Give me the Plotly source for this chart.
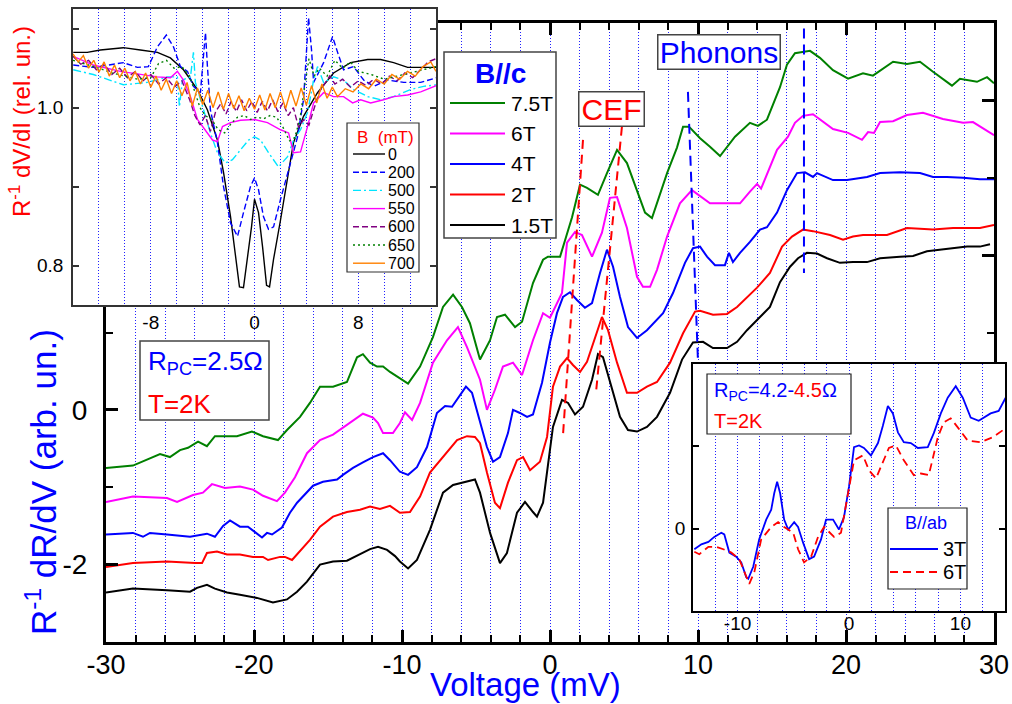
import plotly.graph_objects as go

FONT = "Liberation Sans, Arial, Helvetica, sans-serif"
GRID = "#2020ff"
GDASH = "1px,2px"

# ---------------- main panel: Voltage (mV) vs R^-1 dR/dV (offset curves) ----------------
main_labels = ["7.5T", "6T", "4T", "2T", "1.5T"]
main_colors = ["#008000", "#ff00ff", "#0000ff", "#ff0000", "#000000"]

c75 = [(-30.0,-0.75),(-28.18,-0.72),(-26.35,-0.57),(-25.68,-0.61),(-25.0,-0.52),(-24.46,-0.49),(-23.78,-0.41),
       (-23.18,-0.47),(-22.64,-0.34),(-21.15,-0.34),(-20.14,-0.28),(-19.39,-0.34),(-18.38,-0.39),(-17.77,-0.26),
       (-16.89,-0.09),(-16.22,0.09),(-15.54,0.30),(-14.66,0.30),(-13.72,0.36),(-13.04,0.68),(-12.64,0.72),
       (-12.16,0.61),(-11.69,0.56),(-11.28,0.56),(-10.81,0.49),(-10.14,0.41),(-9.59,0.34),(-8.78,0.56),
       (-7.91,0.94),(-7.23,1.33),(-6.55,1.49),(-5.95,1.33),(-5.41,1.12),(-4.73,0.65),(-4.05,0.90),(-3.58,1.20),
       (-3.04,1.23),(-2.36,1.07),(-1.89,1.14),(-1.15,1.64),(-0.47,1.94),(-0.14,1.98),(0.68,1.98),(1.49,2.49),
       (2.03,2.91),(2.50,2.87),(2.91,2.82),(3.24,2.78),(3.85,3.06),(4.53,3.36),(5.20,3.19),(5.88,2.84),
       (6.42,2.55),(6.89,2.48),(7.30,2.71),(7.91,3.06),(8.58,3.39),(8.99,3.66),(9.39,3.66),(10.14,3.51),
       (10.81,3.40),(11.49,3.28),(12.50,3.53),(13.51,3.71),(14.05,3.67),(14.66,3.75),(15.54,4.17),(16.01,4.46),
       (16.55,4.61),(17.57,4.64),(18.24,4.55),(19.12,4.39),(20.14,4.28),(21.15,4.35),(21.82,4.32),(23.18,4.50),
       (24.12,4.47),(25.0,4.50),(25.88,4.37),(27.16,4.19),(27.70,4.28),(28.85,4.24),(29.53,4.30),(30.0,4.22)]

c6 = [(-30.0,-1.19),(-28.18,-1.12),(-25.88,-1.14),(-25.20,-1.19),(-24.12,-1.10),(-23.45,-1.07),(-22.84,-0.96),
      (-21.96,-1.01),(-20.95,-0.99),(-20.07,-1.03),(-19.39,-1.11),(-18.45,-1.18),(-17.91,-1.07),(-17.23,-0.87),
      (-16.42,-0.56),(-15.54,-0.39),(-14.66,-0.32),(-13.99,-0.23),(-13.31,-0.13),(-12.64,-0.05),(-11.96,-0.10),
      (-11.62,-0.17),(-11.28,-0.30),(-10.61,-0.30),(-10.14,-0.17),(-9.80,-0.03),(-9.32,-0.13),(-8.78,0.09),
      (-7.91,0.61),(-6.96,0.90),(-6.22,1.07),(-5.61,0.81),(-4.73,0.39),(-4.26,0.00),(-3.72,0.26),(-3.18,0.56),
      (-2.50,0.61),(-1.89,0.45),(-1.15,0.90),(-0.47,1.25),(0.00,1.19),(0.81,1.51),(1.15,2.16),(1.69,2.30),
      (2.16,2.26),(2.84,1.98),(3.51,2.29),(4.05,2.74),(4.53,2.75),(5.20,2.35),(5.88,1.72),(6.28,1.59),
      (6.76,1.59),(7.23,1.81),(7.91,2.24),(8.78,2.67),(9.59,2.84),(10.81,2.67),(11.82,2.67),(12.84,2.67),
      (13.51,2.82),(13.99,2.92),(14.26,2.86),(15.34,3.36),(16.08,3.53),(16.55,3.71),(17.09,3.80),(17.77,3.82),
      (19.12,3.63),(20.14,3.58),(21.08,3.49),(21.49,3.59),(21.89,3.58),(22.30,3.72),(23.18,3.73),(24.12,3.81),
      (25.20,3.84),(26.55,3.76),(27.91,3.71),(28.58,3.72),(30.0,3.55)]

c4 = [(-30.0,-1.61),(-28.18,-1.59),(-27.50,-1.64),(-27.03,-1.59),(-25.88,-1.61),(-24.32,-1.64),(-23.18,-1.60),
      (-22.64,-1.64),(-22.09,-1.50),(-21.62,-1.43),(-20.95,-1.51),(-20.41,-1.51),(-19.93,-1.58),(-19.46,-1.65),
      (-19.12,-1.59),(-18.78,-1.61),(-18.11,-1.52),(-17.57,-1.33),(-17.09,-1.20),(-16.69,-1.12),(-16.01,-0.98),
      (-15.34,-0.93),(-14.39,-0.90),(-13.99,-0.84),(-13.31,-0.75),(-12.64,-0.68),(-11.96,-0.61),(-11.28,-0.56),
      (-10.81,-0.65),(-10.14,-0.80),(-9.59,-0.84),(-8.99,-0.74),(-8.31,-0.48),(-7.64,-0.04),(-7.09,0.05),
      (-6.62,0.04),(-6.08,0.19),(-5.68,0.30),(-5.27,0.22),(-4.73,-0.17),(-4.26,-0.48),(-3.85,-0.67),(-3.38,-0.61),
      (-2.84,-0.30),(-2.50,0.00),(-2.03,-0.04),(-1.55,-0.09),(-1.15,-0.06),(-0.54,0.35),(0.00,0.87),(0.47,1.25),
      (0.88,1.46),(1.35,1.52),(1.82,1.42),(2.36,1.32),(2.84,1.38),(3.38,1.77),(3.85,2.07),(4.26,1.85),(4.73,1.46),
      (5.27,1.07),(5.88,0.93),(6.55,1.03),(7.64,1.25),(8.31,1.51),(9.12,1.90),(9.66,2.09),(10.14,2.11),(10.61,1.98),
      (11.15,1.87),(11.82,1.87),(12.09,2.03),(12.36,1.91),(12.84,2.03),(13.51,2.17),(14.19,2.33),(14.66,2.36),
      (15.34,2.55),(16.01,2.84),(16.69,3.06),(17.23,3.07),(17.77,3.01),(18.04,3.06),(19.12,2.97),(20.07,2.97),
      (21.42,3.01),(22.30,3.06),(23.65,3.07),(25.0,3.06),(25.88,3.01),(26.82,3.01),(27.91,3.00),(29.05,2.98),(30.0,2.98)]

c2 = [(-30.0,-2.03),(-28.18,-1.98),(-25.88,-1.96),(-24.53,-1.98),(-23.99,-1.98),(-23.51,-1.98),(-23.18,-1.85),
      (-22.50,-1.83),(-21.82,-1.87),(-20.95,-1.87),(-20.07,-1.90),(-19.39,-1.90),(-19.05,-1.94),(-18.24,-1.90),
      (-17.91,-1.90),(-17.43,-1.94),(-16.89,-1.83),(-16.22,-1.68),(-15.54,-1.51),(-14.66,-1.38),(-13.72,-1.32),
      (-12.84,-1.29),(-12.16,-1.25),(-11.49,-1.28),(-10.81,-1.24),(-10.14,-1.33),(-9.46,-1.32),(-8.78,-1.12),
      (-8.11,-0.81),(-7.23,-0.61),(-6.28,-0.39),(-5.61,-0.34),(-5.07,-0.35),(-4.73,-0.43),(-4.26,-0.81),
      (-3.72,-1.20),(-3.38,-1.27),(-2.84,-0.94),(-2.23,-0.65),(-1.82,-0.61),(-1.35,-0.78),(-0.68,-0.67),
      (-0.20,-0.35),(0.20,0.30),(0.68,0.56),(1.15,0.67),(1.55,0.58),(2.03,0.49),(2.50,0.62),(3.18,1.01),
      (3.51,1.20),(3.92,1.03),(4.53,0.61),(5.20,0.22),(5.88,0.22),(6.55,0.30),(7.23,0.36),(8.11,0.61),(8.99,0.99),
      (9.80,1.27),(10.14,1.28),(11.01,1.23),(11.96,1.24),(12.64,1.33),(13.31,1.46),(13.99,1.58),(14.86,1.77),
      (15.68,2.11),(16.35,2.24),(17.09,2.33),(17.77,2.31),(18.92,2.26),(19.80,2.20),(20.47,2.24),(21.15,2.26),
      (22.77,2.26),(24.12,2.35),(25.88,2.33),(27.23,2.35),(29.05,2.35),(30.0,2.39)]

c15 = [(-30.0,-2.36),(-28.18,-2.31),(-25.88,-2.33),(-24.32,-2.35),(-23.85,-2.30),(-23.18,-2.26),(-22.64,-2.31),
       (-21.82,-2.36),(-20.95,-2.39),(-19.80,-2.43),(-18.72,-2.49),(-17.77,-2.45),(-17.09,-2.35),(-16.42,-2.22),
       (-15.54,-2.00),(-14.66,-1.96),(-13.72,-1.95),(-12.84,-1.87),(-12.16,-1.80),(-11.62,-1.77),(-11.01,-1.81),
       (-10.47,-1.89),(-10.14,-1.96),(-9.59,-2.05),(-8.99,-1.94),(-8.11,-1.55),(-7.23,-1.07),(-6.55,-0.97),
       (-5.88,-0.94),(-5.07,-0.90),(-4.73,-1.07),(-4.05,-1.59),(-3.38,-1.98),(-2.91,-1.85),(-2.23,-1.33),
       (-1.69,-1.19),(-1.15,-1.32),(-0.88,-1.38),(-0.47,-1.20),(-0.14,-0.74),(0.20,-0.22),(0.81,0.13),(1.22,0.09),
       (1.69,-0.06),(2.23,0.04),(2.84,0.39),(3.24,0.72),(3.58,0.68),(4.05,0.35),(4.73,-0.09),(5.27,-0.26),
       (5.88,-0.28),(6.55,-0.22),(7.23,-0.09),(8.11,0.22),(8.92,0.65),(9.66,0.87),(10.34,0.88),(11.01,0.80),
       (11.96,0.80),(12.64,0.88),(13.31,1.03),(14.19,1.20),(14.86,1.33),(15.54,1.65),(16.22,1.85),(16.76,1.96),
       (17.36,2.03),(18.04,2.02),(18.72,1.96),(19.59,1.90),(20.47,1.91),(21.42,1.91),(22.30,1.96),(23.65,1.98),
       (24.53,1.99),(25.47,2.05),(26.82,2.08),(28.18,2.11),(29.05,2.11),(29.73,2.14)]

main_curves = [c75, c6, c4, c2, c15]

main_xticks = [-30, -20, -10, 0, 10, 20, 30]
main_xtext = ["-30", "-20", "-10", "0", "10", "20", "30"]
main_yticks = [-2, 0, 2, 4]
main_ytext = ["-2", "0", "", ""]

# guide lines (voltage, value) -> (voltage, value)
phonon_lines = [(9.32, 4.11, 10.0, 0.62), (17.16, 4.93, 17.16, 1.77)]
cef_lines = [(2.23, 3.49, 0.88, -0.32), (4.86, 3.66, 3.11, 0.23)]

# ---------------- inset 1 (top-left): R^-1 dV/dI vs V, B in mT ----------------
in1_labels = ["0", "200", "500", "550", "600", "650", "700"]
in1_colors = ["#000000", "#0000ff", "#00e5ff", "#ff00ff", "#800080", "#008000", "#ff8000"]
in1_dash = ["solid", "6px,3px", "8px,3px,2px,3px", "solid", "6px,3px", "2px,3px", "solid"]
in1_xticks = [-8, 0, 8]
in1_xtext = ["-8", "0", "8"]
in1_yticks = [0.8, 0.9, 1.0, 1.1]
in1_ytext = ["0.8", "", "1.0", ""]

b0 = [(-13.98,1.070),(-12.90,1.070),(-11.89,1.073),(-10.12,1.076),(-8.80,1.073),(-7.49,1.070),(-6.49,1.063),
      (-5.48,1.048),(-4.40,1.023),(-3.63,0.997),(-2.86,0.959),(-2.39,0.918),(-1.85,0.862),(-1.47,0.816),
      (-1.16,0.773),(-0.85,0.772),(-0.54,0.808),(-0.23,0.849),(0.0,0.884),(0.31,0.867),(0.62,0.824),(0.93,0.775),
      (1.16,0.773),(1.47,0.808),(2.01,0.858),(2.55,0.909),(3.01,0.956),(3.78,0.989),(4.86,1.019),(6.10,1.044),
      (7.41,1.057),(8.73,1.061),(9.73,1.061),(10.73,1.057),(11.81,1.051),(12.82,1.051),(14.05,1.051)]
b200 = [(-13.98,1.054),(-12.43,1.051),(-10.12,1.057),(-9.03,1.051),(-8.19,1.052),(-7.49,1.077),(-6.80,1.092),
        (-6.25,1.077),(-5.71,1.052),(-5.17,1.046),(-4.71,1.027),(-4.17,1.019),(-3.94,1.065),(-3.78,1.095),
        (-3.63,1.052),(-3.40,0.997),(-2.86,0.956),(-2.39,0.900),(-1.85,0.854),(-1.31,0.837),(-0.85,0.867),
        (-0.31,0.900),(0.0,0.911),(0.31,0.896),(0.69,0.862),(1.08,0.846),(1.47,0.849),(2.01,0.884),(2.78,0.930),
        (3.32,0.963),(3.78,1.010),(4.02,1.070),(4.17,1.114),(4.40,1.073),(4.56,1.032),(5.33,1.057),(6.02,1.090),
        (6.41,1.070),(6.87,1.048),(7.64,1.052),(8.42,1.035),(9.19,1.027),(10.27,1.035),(11.51,1.032),(12.82,1.032),
        (14.05,1.038)]
b500 = [(-13.98,1.048),(-12.43,1.042),(-10.12,1.029),(-8.26,1.032),(-6.72,1.039),(-5.95,1.039),(-5.79,1.001),
        (-5.56,1.035),(-4.94,1.039),(-4.71,1.070),(-4.56,1.032),(-3.94,0.997),(-3.40,0.968),(-2.86,0.943),
        (-2.24,0.930),(-1.70,0.934),(-1.08,0.947),(-0.46,0.959),(0.0,0.963),(0.46,0.959),(1.08,0.943),(1.85,0.925),
        (2.55,0.938),(3.01,0.959),(3.55,0.972),(4.09,0.994),(4.56,1.035),(4.86,1.052),(5.33,1.032),(6.10,1.039),
        (6.87,1.035),(7.64,1.023),(8.73,1.014),(9.73,1.010),(10.73,1.014),(12.05,1.023),(13.05,1.027),(14.05,1.029)]
b550 = [(-13.98,1.065),(-12.43,1.054),(-10.35,1.046),(-8.80,1.042),(-7.49,1.039),(-6.49,1.038),(-5.95,1.046),
        (-5.48,1.035),(-4.94,1.014),(-4.40,0.985),(-3.94,0.975),(-3.24,0.959),(-2.86,0.957),(-2.47,0.976),
        (-1.85,0.981),(-1.08,0.984),(0.0,0.985),(1.00,0.981),(2.01,0.972),(2.63,0.968),(3.01,0.943),(3.55,0.944),
        (4.09,0.976),(4.56,1.006),(5.33,1.019),(6.10,1.014),(6.87,1.014),(7.57,1.006),(8.19,1.010),(8.96,1.006),
        (9.96,1.010),(10.73,1.014),(11.81,1.016),(12.82,1.020),(14.05,1.028)]
b600 = [(-14.0,1.065),(-13.4,1.055),(-12.8,1.060),(-12.2,1.048),(-11.6,1.055),(-11.0,1.042),(-10.4,1.050),
        (-9.8,1.038),(-9.2,1.046),(-8.6,1.034),(-8.0,1.042),(-7.4,1.030),(-6.8,1.038),(-6.2,1.026),(-5.6,1.034),
        (-5.0,1.010),(-4.6,0.990),(-4.2,0.978),(-3.8,0.990),(-3.4,0.970),(-3.0,0.995),(-2.6,1.005),(-2.2,0.992),
        (-1.8,1.008),(-1.4,0.995),(-1.0,1.010),(-0.6,0.996),(-0.2,1.008),(0.2,0.994),(0.6,1.008),(1.0,0.996),
        (1.4,1.010),(1.8,0.995),(2.2,1.006),(2.6,0.990),(3.0,1.000),(3.4,0.975),(3.8,0.985),(4.2,0.978),(4.6,1.000),
        (5.0,1.020),(5.4,1.030),(5.8,1.040),(6.2,1.030),(6.8,1.036),(7.4,1.026),(8.0,1.034),(8.6,1.028),(9.2,1.036),
        (9.8,1.030),(10.4,1.040),(11.0,1.034),(11.6,1.044),(12.2,1.038),(12.8,1.048),(13.4,1.058),(14.0,1.062)]
b650 = [(-14.0,1.060),(-13.0,1.055),(-12.0,1.050),(-11.0,1.044),(-10.0,1.040),(-9.0,1.036),(-8.0,1.038),
        (-7.4,1.056),(-6.8,1.060),(-6.2,1.050),(-5.6,1.052),(-5.0,1.040),(-4.6,1.020),(-4.2,1.000),(-3.8,0.990),
        (-3.3,0.985),(-2.8,0.972),(-2.3,0.968),(-1.8,0.980),(-1.3,0.988),(-0.8,0.990),(-0.3,0.985),(0.2,0.988),
        (0.7,0.986),(1.2,0.990),(1.7,0.988),(2.2,0.975),(2.7,0.958),(3.1,0.962),(3.5,0.985),(3.9,1.030),(4.2,1.062),
        (4.6,1.040),(5.0,1.050),(5.6,1.040),(6.2,1.060),(6.8,1.050),(7.4,1.058),(8.0,1.046),(9.0,1.042),(10.0,1.036),
        (11.0,1.040),(12.0,1.044),(13.0,1.048),(14.0,1.052)]
b700 = [(-14.0,1.068),(-13.6,1.058),(-13.2,1.066),(-12.8,1.050),(-12.4,1.060),(-12.0,1.045),(-11.6,1.058),
        (-11.2,1.040),(-10.8,1.054),(-10.4,1.038),(-10.0,1.050),(-9.6,1.034),(-9.2,1.046),(-8.8,1.030),(-8.4,1.044),
        (-8.0,1.026),(-7.6,1.040),(-7.2,1.022),(-6.8,1.036),(-6.4,1.018),(-6.0,1.034),(-5.6,1.015),(-5.2,1.032),
        (-4.8,1.002),(-4.4,1.025),(-4.0,1.004),(-3.6,1.022),(-3.2,1.000),(-2.8,1.020),(-2.4,0.998),(-2.0,1.018),
        (-1.6,0.999),(-1.2,1.015),(-0.8,0.996),(-0.4,1.012),(0.0,0.998),(0.4,1.016),(0.8,0.997),(1.2,1.018),
        (1.6,1.000),(2.0,1.020),(2.4,0.999),(2.8,1.022),(3.2,1.002),(3.6,1.025),(4.0,1.003),(4.4,1.028),(4.8,1.006),
        (5.2,1.030),(5.6,1.012),(6.0,1.026),(6.4,1.014),(7.0,1.024),(7.6,1.020),(8.2,1.030),(8.8,1.024),(9.4,1.036),
        (10.0,1.030),(10.6,1.042),(11.2,1.036),(11.8,1.046),(12.4,1.040),(13.0,1.052),(13.6,1.058),(14.0,1.046)]
in1_curves = [b0, b200, b500, b550, b600, b650, b700]

# ---------------- inset 2 (bottom-right): B//ab ----------------
in2_labels = ["3T", "6T"]
in2_colors = ["#0000ff", "#ff0000"]
in2_dash = ["solid", "8px,5px"]
in2_xticks = [-10, 0, 10]
in2_xtext = ["-10", "0", "10"]
in2_yticks = [-1, 0, 1, 2]
in2_ytext = ["", "0", "", ""]
a3 = [(-13.88,-0.25),(-13.25,-0.19),(-12.62,-0.16),(-12.09,-0.10),(-11.46,-0.05),(-11.19,-0.07),(-10.74,-0.29),
      (-10.12,-0.34),(-9.67,-0.41),(-9.22,-0.59),(-9.04,-0.61),(-8.59,-0.46),(-8.06,-0.13),(-7.43,0.11),
      (-6.98,0.23),(-6.71,0.43),(-6.45,0.57),(-6.18,0.43),(-5.82,0.11),(-5.46,-0.01),(-4.92,0.08),(-4.57,0.02),
      (-4.12,-0.17),(-3.58,-0.37),(-3.13,-0.34),(-2.51,-0.13),(-2.06,0.11),(-1.43,0.11),(-0.90,-0.01),(-0.45,0.14),
      (0.0,0.51),(0.45,0.99),(0.90,1.01),(1.34,0.98),(1.97,0.89),(2.60,1.04),(3.04,1.25),(3.49,1.49),(3.94,1.40),
      (4.39,1.17),(4.92,1.05),(5.55,1.04),(6.18,0.98),(7.07,0.99),(7.61,1.16),(8.24,1.40),(8.86,1.59),(9.58,1.73),
      (10.21,1.59),(10.92,1.35),(11.64,1.31),(12.71,1.40),(13.43,1.43),(14.06,1.59)]
a6 = [(-13.88,-0.28),(-13.43,-0.31),(-12.62,-0.22),(-11.91,-0.22),(-11.28,-0.25),(-10.56,-0.29),(-9.85,-0.37),
      (-9.40,-0.53),(-8.95,-0.67),(-8.50,-0.53),(-7.88,-0.13),(-6.98,0.02),(-6.36,0.08),(-5.82,0.02),(-5.01,-0.05),
      (-4.57,-0.25),(-4.03,-0.41),(-3.40,-0.34),(-2.78,-0.10),(-2.24,0.02),(-1.34,-0.10),(-0.72,-0.05),(-0.09,0.43),
      (0.45,0.83),(1.25,0.89),(1.79,0.71),(2.42,0.61),(3.04,0.80),(3.58,0.98),(4.21,1.01),(4.92,0.83),(5.82,0.65),
      (6.45,0.67),(7.16,0.65),(7.97,1.11),(8.50,1.29),(9.13,1.34),(9.76,1.23),(10.65,1.07),(11.82,1.05),(12.89,1.11),
      (14.06,1.22)]
in2_curves = [a3, a6]

# ---------------- layout geometry helpers (pixel -> paper) ----------------
FW, FH = 1012, 704
ML, MR, MT, MB = 60, 5, 5, 62
PW, PH = FW - ML - MR, FH - MT - MB


def fx(px):
    return (px - ML) / PW


def fy(py):
    return (FH - MB - py) / PH


fig = go.Figure()

for lab, col, cur in zip(main_labels, main_colors, main_curves):
    fig.add_trace(go.Scatter(x=[p[0] for p in cur], y=[p[1] for p in cur], mode="lines", name=lab,
                             line=dict(color=col, width=2), xaxis="x", yaxis="y", showlegend=False))

for lab, col, dsh, cur in zip(in1_labels, in1_colors, in1_dash, in1_curves):
    fig.add_trace(go.Scatter(x=[p[0] for p in cur], y=[p[1] for p in cur], mode="lines", name=lab + " mT",
                             line=dict(color=col, width=1.4, dash=dsh), xaxis="x2", yaxis="y2", showlegend=False))

for lab, col, dsh, cur in zip(in2_labels, in2_colors, in2_dash, in2_curves):
    fig.add_trace(go.Scatter(x=[p[0] for p in cur], y=[p[1] for p in cur], mode="lines", name=lab,
                             line=dict(color=col, width=1.8, dash=dsh), xaxis="x3", yaxis="y3", showlegend=False))

grid_minor = dict(showgrid=True, gridcolor=GRID, griddash=GDASH, gridwidth=1)

layout = dict(
    width=FW, height=FH, autosize=False,
    margin=dict(l=ML, r=MR, t=MT, b=MB, autoexpand=False),
    paper_bgcolor="white", plot_bgcolor="white",
    font=dict(family=FONT, color="black"),
    xaxis=dict(domain=[fx(106), fx(994)], range=[-30, 30], anchor="y", automargin=False,
               tickvals=main_xticks, ticktext=main_xtext, ticks="inside", ticklen=12, tickwidth=2.5,
               tickcolor="black", showline=True, linewidth=3, linecolor="black", mirror="ticks",
               showgrid=True, gridcolor=GRID, griddash=GDASH, gridwidth=1, zeroline=False,
               tickfont=dict(size=27, color="black"), ticklabelstandoff=-3,
               minor=dict(dtick=2, tick0=0, ticks="inside", ticklen=7, tickwidth=2, tickcolor="black", **grid_minor)),
    yaxis=dict(domain=[fy(642), fy(23)], range=[-3, 5], anchor="x", automargin=False,
               tickvals=main_yticks, ticktext=main_ytext, ticks="inside", ticklen=12, tickwidth=2.5,
               tickcolor="black", showline=True, linewidth=3, linecolor="black", mirror="ticks",
               showgrid=False, zeroline=False, tickfont=dict(size=28, color="black"), ticklabelstandoff=10,
               minor=dict(dtick=1, tick0=0, ticks="inside", ticklen=7, tickwidth=2, tickcolor="black")),
    xaxis2=dict(domain=[fx(73), fx(436)], range=[-14, 14], anchor="y2", automargin=False,
                tickvals=in1_xticks, ticktext=in1_xtext, ticks="", showline=True, linewidth=1.5,
                linecolor="#333333", mirror=True,
                showgrid=True, gridcolor=GRID, griddash=GDASH, gridwidth=1, zeroline=False,
                tickfont=dict(size=19, color="black"), ticklabelstandoff=-1,
                minor=dict(dtick=2, tick0=0, **grid_minor)),
    yaxis2=dict(domain=[fy(305), fy(9)], range=[0.75, 1.125], anchor="x2", automargin=False,
                tickvals=in1_yticks, ticktext=in1_ytext, ticks="inside", ticklen=6,
                tickwidth=1.5, tickcolor="#333333", showline=True, linewidth=1.5, linecolor="#333333",
                mirror="ticks", showgrid=False, zeroline=False, tickfont=dict(size=19, color="black"),
                ticklabelstandoff=4),
    xaxis3=dict(domain=[fx(693), fx(1005)], range=[-14, 14], anchor="y3", automargin=False,
                tickvals=in2_xticks, ticktext=in2_xtext, ticks="", showline=True, linewidth=1.5,
                linecolor="black", mirror=True,
                showgrid=True, gridcolor=GRID, griddash=GDASH, gridwidth=1, zeroline=False,
                tickfont=dict(size=19, color="black"), ticklabelstandoff=-6,
                minor=dict(dtick=2, tick0=0, **grid_minor)),
    yaxis3=dict(domain=[fy(611), fy(364)], range=[-1, 2], anchor="x3", automargin=False,
                tickvals=in2_yticks, ticktext=in2_ytext, ticks="inside", ticklen=6, tickwidth=1.5,
                tickcolor="black", showline=True, linewidth=1.5, linecolor="black", mirror="ticks",
                showgrid=False, zeroline=False, tickfont=dict(size=19, color="black"), ticklabelstandoff=2),
)
fig.update_layout(**layout)

shapes = []
annos = []

# guide lines
for (xa, ya, xb, yb) in phonon_lines:
    shapes.append(dict(type="line", xref="x", yref="y", x0=xa, y0=ya, x1=xb, y1=yb, layer="above",
                       line=dict(color="#0000ff", width=2, dash="10px,6px")))
for (xa, ya, xb, yb) in cef_lines:
    shapes.append(dict(type="line", xref="x", yref="y", x0=xa, y0=ya, x1=xb, y1=yb, layer="above",
                       line=dict(color="#ff0000", width=2, dash="9px,6px")))


def box(x0, y0, x1, y1, col="#444444", w=1.5):
    shapes.append(dict(type="rect", xref="paper", yref="paper", x0=fx(x0), x1=fx(x1), y0=fy(y1), y1=fy(y0),
                       line=dict(color=col, width=w), fillcolor="white", layer="above"))


def text(px, py, s, size, color, xanchor="left", angle=0):
    annos.append(dict(xref="paper", yref="paper", x=fx(px), y=fy(py), text=s, showarrow=False,
                      xanchor=xanchor, yanchor="middle", textangle=angle,
                      font=dict(size=size, color=color, family=FONT)))


# main legend (B//c)
box(444, 52, 556, 238)
text(500, 73, "<b>B//c</b>", 28, "#0000ff", "center")
for i, (lab, col) in enumerate(zip(main_labels, main_colors)):
    yy = 103 + i * 30.5
    shapes.append(dict(type="line", xref="paper", yref="paper", x0=fx(450), x1=fx(505), y0=fy(yy), y1=fy(yy),
                       line=dict(color=col, width=2), layer="above"))
    text(509, yy, lab, 21, "black")

# inset-1 legend (B (mT))
box(347, 123, 419, 272, "#333333", 1.2)
text(385, 137, "B  (mT)", 17, "#ff0000", "center")
for i, (lab, col, dsh) in enumerate(zip(in1_labels, in1_colors, in1_dash)):
    yy = 154 + i * 18.2
    shapes.append(dict(type="line", xref="paper", yref="paper", x0=fx(353), x1=fx(385), y0=fy(yy), y1=fy(yy),
                       line=dict(color=col, width=1.4, dash=dsh), layer="above"))
    text(386, yy, lab, 16, "black")

# inset-2 legend (B//ab)
box(888, 508, 967, 589, "#222222", 1.2)
text(926, 523, "B//ab", 18, "#0000ff", "center")
for i, (lab, col, dsh) in enumerate(zip(in2_labels, in2_colors, in2_dash)):
    yy = 549 + i * 23
    shapes.append(dict(type="line", xref="paper", yref="paper", x0=fx(890), x1=fx(938), y0=fy(yy), y1=fy(yy),
                       line=dict(color=col, width=1.8, dash=dsh), layer="above"))
    text(941, yy, lab, 20, "black")

# labelled boxes
annos.append(dict(xref="paper", yref="paper", x=fx(718.5), y=fy(52.5), text="Phonons", showarrow=False,
                  font=dict(size=30, color="#0000ff", family=FONT), bgcolor="white", bordercolor="#444444",
                  borderwidth=1.5, borderpad=1, width=119, height=31, xanchor="center", yanchor="middle"))
annos.append(dict(xref="paper", yref="paper", x=fx(611), y=fy(108.5), text="CEF", showarrow=False,
                  font=dict(size=30, color="#ff0000", family=FONT), bgcolor="white", bordercolor="#444444",
                  borderwidth=1.5, borderpad=1, width=62, height=31, xanchor="center", yanchor="middle"))

box(140, 341, 269, 420)
text(146, 362, "R<sub>PC</sub>=2.5Ω", 26, "#0000ff")
text(146, 404, "T=2K", 26, "#ff0000")

box(707, 374, 851, 434, "#222222", 1.2)
text(712, 391, "R<sub>PC</sub>=4.2-<span style='color:#ff0000'>4.5</span>Ω", 20, "#0000ff")
text(712, 421, "T=2K", 20, "#ff0000")

# axis titles
text(525, 685, "Voltage (mV)", 33, "#0000ff", "center")
text(41, 482, "R<sup>-1</sup> dR/dV (arb. un.)", 35, "#0000ff", "center", -90)
text(20, 122, "R<sup>-1</sup> dV/dI (rel. un.)", 24, "#ff0000", "center", -90)

fig.update_layout(shapes=shapes, annotations=annos)
fig.write_html("out.html", config={"displayModeBar": False},
               post_script="document.body.style.margin='0px';document.body.style.overflow='hidden';")
